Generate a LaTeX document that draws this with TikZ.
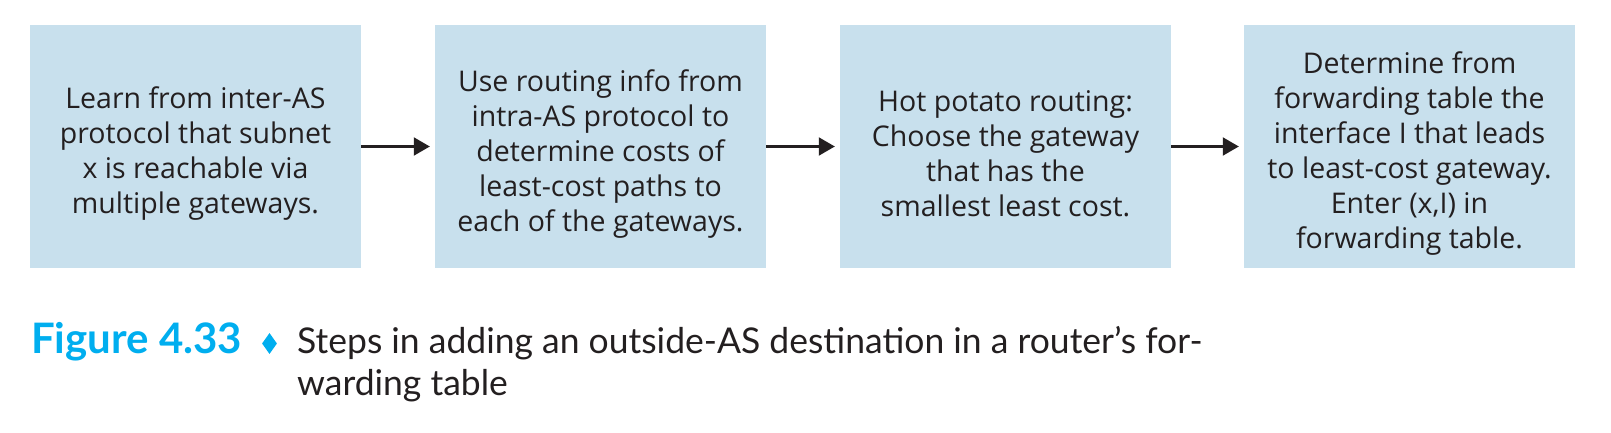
\documentclass[tikz,border=0pt]{standalone}
\usepackage{fontspec}
\setmainfont{Open Sans}
\newfontfamily\capfont{Lato}
\usetikzlibrary{arrows.meta,shapes.geometric}
\definecolor{boxblue}{RGB}{200,224,237}
\definecolor{ink}{RGB}{35,31,32}
\definecolor{figcyan}{RGB}{0,174,239}
\newcommand\topgap{\rule{0pt}{36pt}}

\begin{document}
\begin{tikzpicture}[x=1pt,y=-1pt]
\tikzstyle{dep}= [-{Triangle[length=16pt,width=18pt]},line width=2pt,draw=ink,shorten >=5pt]
\tikzstyle{bb}= [rectangle,fill=boxblue,minimum width=331pt,minimum height=243pt,inner sep=0pt,align=center,text=ink,font=\fontsize{28.5}{35}\selectfont]

\useasboundingbox (0,0) rectangle (1611,433);
\path
	( 195.5,146.5) node[bb] (learn) {\topgap Learn from inter-AS\\protocol that subnet\\x is reachable via\\multiple gateways.}
	( 600.5,146.5) node[bb] (cost) {\topgap Use routing info from\\intra-AS protocol to\\determine costs of\\least-cost paths to\\each of the gateways.}
	(1005.5,146.5) node[bb] (hot) {\topgap Hot potato routing:\\Choose the gateway\\that has the\\smallest least cost.}
	(1409.5,146.5) node[bb] (fwd) {\topgap Determine from\\forwarding table the\\interface I that leads\\to least-cost gateway.\\Enter (x,I) in\\forwarding table.}
;
\draw[dep] (learn) -- (cost);
\draw[dep] (cost) -- (hot);
\draw[dep] (hot) -- (fwd);

% caption
\node[anchor=base west,inner sep=0pt,text=figcyan,font=\capfont\bfseries\fontsize{42}{42}\selectfont] (fig) at (31,353) {Figure 4.33};
\node[diamond,aspect=0.71,fill=figcyan,minimum width=15pt,minimum height=21pt,inner sep=0pt] (dia) at (269.5,343.5) {};
\node[anchor=base west,inner sep=0pt,align=left,text=ink,font=\capfont\fontsize{35.5}{42}\selectfont] (cap) at (297,395) {Steps in adding an outside-AS destination in a router’s for-\\warding table};
\end{tikzpicture}
\end{document}
